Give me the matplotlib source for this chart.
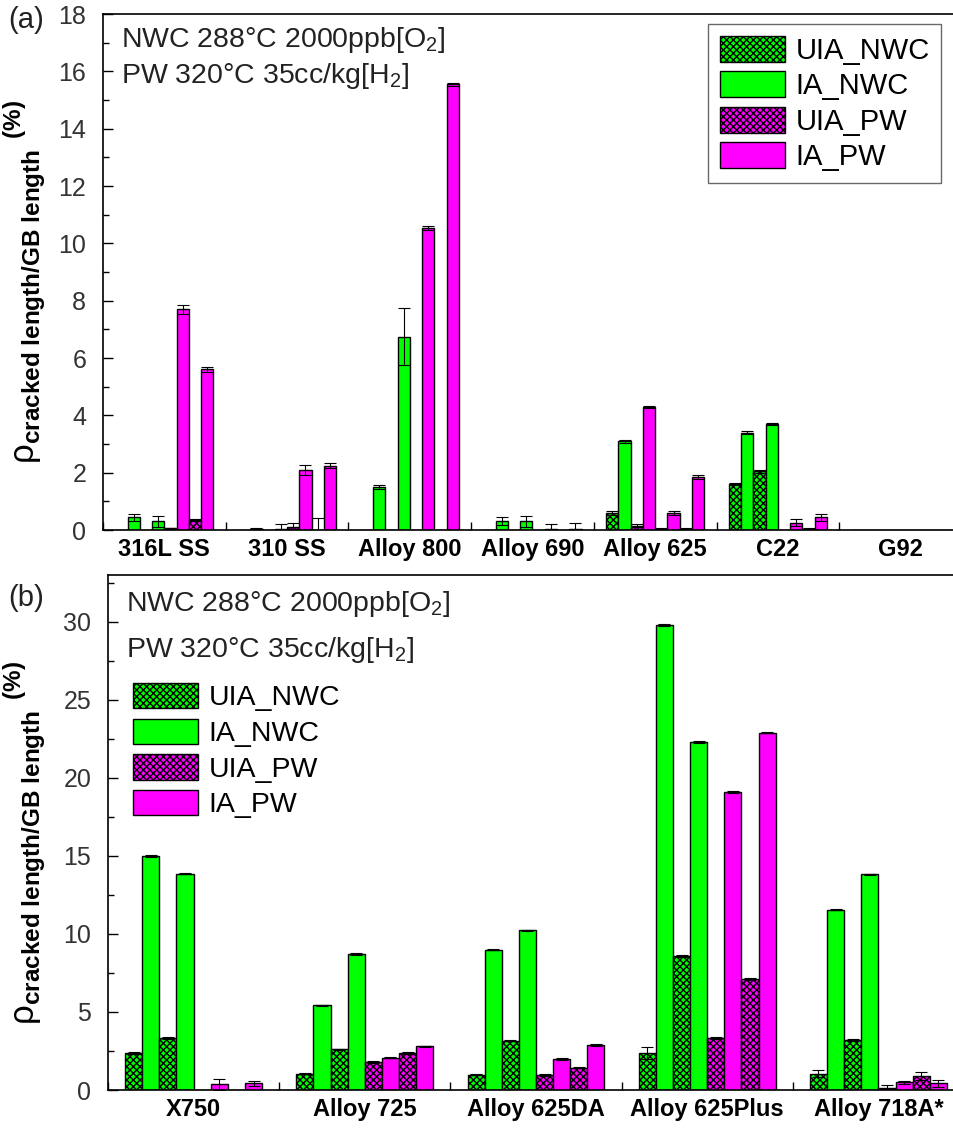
import matplotlib
matplotlib.use('Agg')
import matplotlib.pyplot as plt
from matplotlib.patches import Patch
import numpy as np

plt.rcParams['font.family'] = ['Liberation Sans', 'DejaVu Sans']
plt.rcParams['mathtext.fontset'] = 'custom'
plt.rcParams['mathtext.rm'] = 'Liberation Sans'
plt.rcParams['mathtext.it'] = 'Liberation Sans:italic'
plt.rcParams['mathtext.bf'] = 'Liberation Sans:bold'
plt.rcParams['hatch.linewidth'] = 1.0

# panel (a) data: 8 bars per alloy (two samples for each condition)
a_groups = ['316L SS', '310 SS', 'Alloy 800', 'Alloy 690', 'Alloy 625', 'C22', 'G92']
a_uia_nwc_1 = [0, 0, 0, 0, 0.6, 1.6, 0]
a_ia_nwc_1 = [0.45, 0.05, 1.5, 0.33, 3.1, 3.4, 0]
a_uia_nwc_2 = [0, 0, 0, 0, 0.15, 2.05, 0]
a_ia_nwc_2 = [0.3, 0.05, 6.75, 0.3, 4.3, 3.7, 0]
a_uia_pw_1 = [0.06, 0.1, 0, 0, 0.05, 0, 0]
a_ia_pw_1 = [7.7, 2.1, 10.55, 0.02, 0.6, 0.25, 0]
a_uia_pw_2 = [0.35, 0.0, 0, 0, 0.05, 0.05, 0]
a_ia_pw_2 = [5.6, 2.25, 15.55, 0.02, 1.85, 0.45, 0]
a_err = [
    [0, 0, 0, 0, 0.06, 0.03, 0],
    [0.12, 0.02, 0.08, 0.14, 0.05, 0.05, 0],
    [0, 0, 0, 0, 0.05, 0.05, 0],
    [0.2, 0.15, 1.0, 0.2, 0.04, 0.05, 0],
    [0.02, 0.15, 0, 0, 0.02, 0, 0],
    [0.15, 0.18, 0.07, 0.18, 0.08, 0.12, 0],
    [0.05, 0.42, 0, 0, 0.02, 0.02, 0],
    [0.1, 0.08, 0.05, 0.22, 0.08, 0.12, 0],
]

# panel (b) data
b_groups = ['X750', 'Alloy 725', 'Alloy 625DA', 'Alloy 625Plus', 'Alloy 718A*']
b_uia_nwc_1 = [2.36, 1.05, 0.99, 2.38, 1.05]
b_ia_nwc_1 = [15.0, 5.42, 9.0, 29.8, 11.56]
b_uia_nwc_2 = [3.33, 2.6, 3.16, 8.59, 3.2]
b_ia_nwc_2 = [13.86, 8.71, 10.23, 22.3, 13.82]
b_uia_pw_1 = [0, 1.79, 0.95, 3.33, 0.1]
b_ia_pw_1 = [0.36, 2.07, 2.0, 19.1, 0.49]
b_uia_pw_2 = [0, 2.38, 1.43, 7.11, 0.9]
b_ia_pw_2 = [0.42, 2.8, 2.89, 22.9, 0.42]
b_err = [
    [0.05, 0.05, 0.05, 0.4, 0.2],
    [0.05, 0.05, 0.05, 0.05, 0.05],
    [0.05, 0.05, 0.05, 0.05, 0.05],
    [0.05, 0.05, 0.05, 0.05, 0.05],
    [0, 0.05, 0.05, 0.05, 0.2],
    [0.34, 0.05, 0.05, 0.05, 0.1],
    [0, 0.05, 0.05, 0.05, 0.25],
    [0.15, 0.05, 0.05, 0.05, 0.25],
]

series = ['UIA_NWC', 'IA_NWC', 'UIA_PW', 'IA_PW']
styles = {
    'UIA_NWC': dict(color='#00ff00', hatch='xxxxx'),
    'IA_NWC': dict(color='#00ff00', hatch=None),
    'UIA_PW': dict(color='#ff00ff', hatch='xxxxx'),
    'IA_PW': dict(color='#ff00ff', hatch=None),
}
pos_series = ['UIA_NWC', 'IA_NWC', 'UIA_NWC', 'IA_NWC', 'UIA_PW', 'IA_PW', 'UIA_PW', 'IA_PW']
# Alloy 625 in (a) has the PW pair in the 3rd/4th slot
a_override = {(4, 2): 'UIA_PW', (4, 3): 'IA_PW'}

ylab = r'$\mathrm{\rho}_{\mathbf{cracked\ length/GB\ length}}$ $^{\mathbf{(\%)}}$'

W, H = 954, 1128
fig = plt.figure(figsize=(W / 100, H / 100), dpi=100)
ax_a = fig.add_axes([103 / W, 1 - 530 / H, 859 / W, 516 / H])
ax_b = fig.add_axes([108 / W, 1 - 1090 / H, 856 / W, 515 / H])


def draw(ax, groups, cols, errs, override):
    x = np.arange(len(groups))
    for k, (vals, err) in enumerate(zip(cols, errs)):
        for i in range(len(groups)):
            name = override.get((i, k), pos_series[k])
            st = styles[name]
            xp = x[i] - 0.35 + 0.1 * k
            ax.bar(xp, vals[i], width=0.1, color=st['color'], hatch=st['hatch'],
                   edgecolor='black', linewidth=1.0, zorder=2)
            if err[i] > 0:
                ax.errorbar(xp, vals[i], yerr=err[i], fmt='none', ecolor='black',
                            elinewidth=0.8, capsize=4, capthick=0.8, zorder=3)
    ax.set_xlim(-0.5, len(groups) - 0.5)
    ax.set_xticks(np.arange(len(groups) + 1) - 0.5)
    ax.set_xticklabels([])
    ax.set_xticks(x, minor=True)
    ax.set_xticklabels(groups, minor=True, fontsize=17, fontweight='bold')
    ax.tick_params(axis='x', which='major', direction='in', length=6, width=1)
    ax.tick_params(axis='x', which='minor', length=0, pad=6)
    ax.tick_params(axis='y', which='both', direction='in', width=1, labelsize=18,
                   labelcolor='#333333', left=True, right=False, pad=12)
    ax.tick_params(axis='y', which='major', length=7)
    ax.tick_params(axis='y', which='minor', length=4)
    for sp in ax.spines.values():
        sp.set_linewidth(1.2)
    ax.set_ylabel(ylab, fontsize=25)


draw(ax_a, a_groups,
     [a_uia_nwc_1, a_ia_nwc_1, a_uia_nwc_2, a_ia_nwc_2, a_uia_pw_1, a_ia_pw_1, a_uia_pw_2, a_ia_pw_2],
     a_err, a_override)
ax_a.set_ylim(0, 18)
ax_a.set_yticks(np.arange(0, 19, 2))
ax_a.set_yticks(np.arange(1, 18, 2), minor=True)
ax_a.yaxis.set_label_coords(-0.064, 0.48)

draw(ax_b, b_groups,
     [b_uia_nwc_1, b_ia_nwc_1, b_uia_nwc_2, b_ia_nwc_2, b_uia_pw_1, b_ia_pw_1, b_uia_pw_2, b_ia_pw_2],
     b_err, {})
ax_b.set_ylim(0, 33)
ax_b.set_yticks(np.arange(0, 31, 5))
ax_b.set_yticks(np.arange(2.5, 33, 5), minor=True)
ax_b.yaxis.set_label_coords(-0.070, 0.48)

handles = [Patch(facecolor=styles[s]['color'], hatch=styles[s]['hatch'],
                 edgecolor='black', linewidth=1.0) for s in series]

leg_a = fig.legend(handles, series, loc='upper left',
                   bbox_to_anchor=(708 / W, 1 - 24 / H), fontsize=21,
                   frameon=True, fancybox=False, edgecolor='#444444',
                   handlelength=2.25, handleheight=1.0, labelspacing=0.22,
                   handletextpad=0.35, borderpad=0.4, borderaxespad=0)
leg_a.get_frame().set_linewidth(1.0)

fig.legend(handles, series, loc='upper left',
           bbox_to_anchor=(133 / W, 1 - 683 / H), fontsize=20.5, frameon=False,
           handlelength=2.3, handleheight=1.0, labelspacing=0.25,
           handletextpad=0.35, borderpad=0, borderaxespad=0)

cond1 = 'NWC 288°C 2000ppb[O$_2$]'
cond2 = 'PW 320°C 35cc/kg[H$_2$]'
fig.text(121 / W, 1 - 40 / H, cond1, fontsize=20.5, va='center', color='#222222')
fig.text(121 / W, 1 - 76 / H, cond2, fontsize=20.5, va='center', color='#222222')
fig.text(126 / W, 1 - 604 / H, cond1, fontsize=20.5, va='center', color='#222222')
fig.text(126 / W, 1 - 650 / H, cond2, fontsize=20.5, va='center', color='#222222')

fig.text(8 / W, 1 - 20 / H, '(a)', fontsize=21, va='center', color='#222222')
fig.text(8 / W, 1 - 598 / H, '(b)', fontsize=21, va='center', color='#222222')

fig.savefig('out.png', dpi=100)
